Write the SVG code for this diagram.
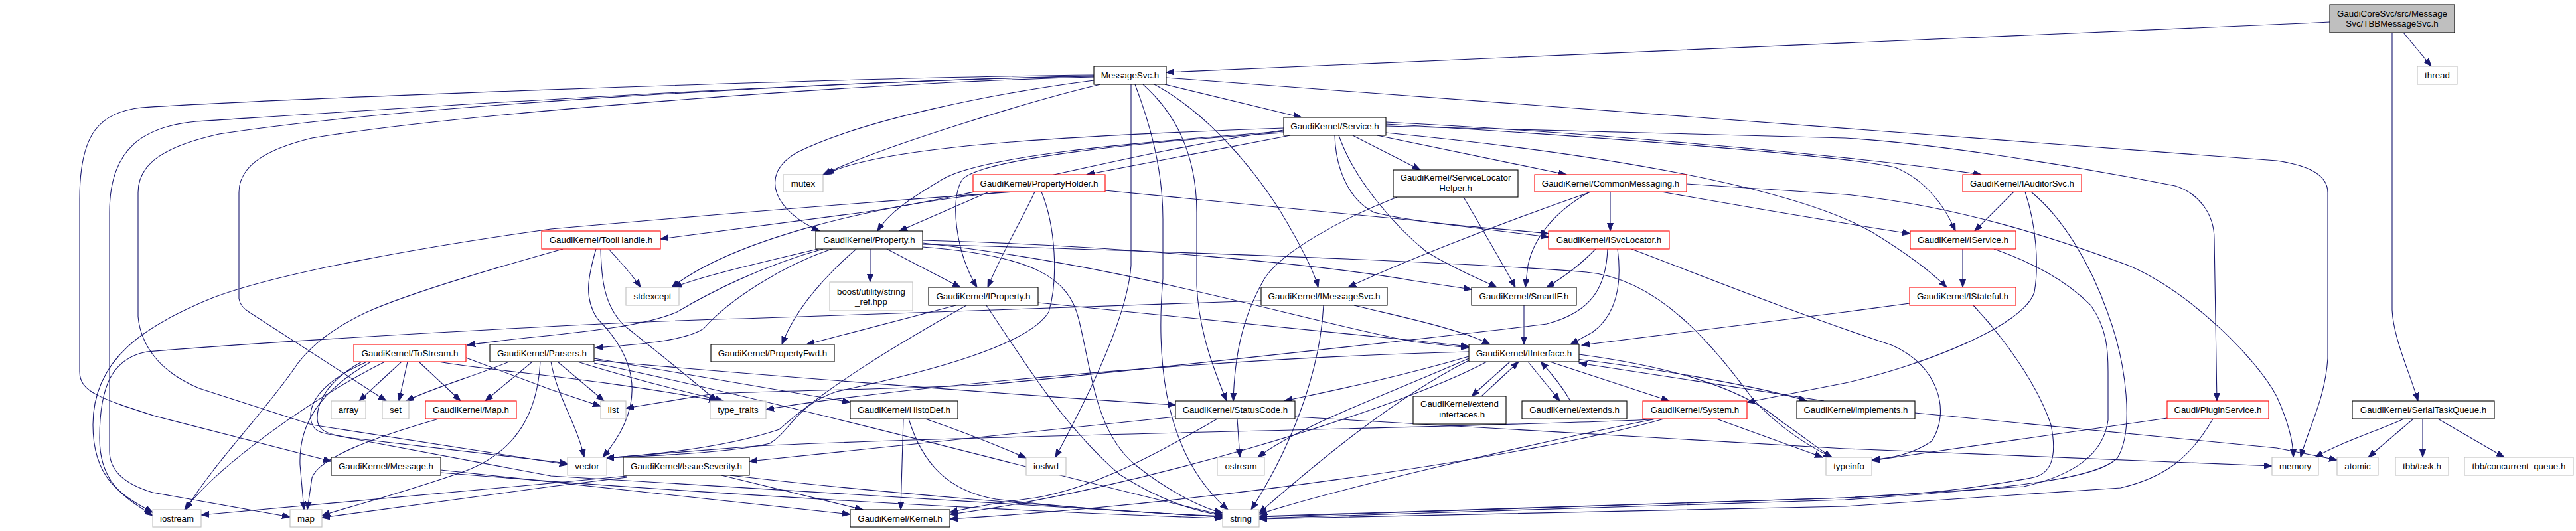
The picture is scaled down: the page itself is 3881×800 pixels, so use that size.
<svg xmlns="http://www.w3.org/2000/svg" width="3881" height="800" viewBox="0 0 3881 800">
<defs>
<marker id="a" markerUnits="userSpaceOnUse" markerWidth="13" markerHeight="10" refX="12" refY="5" orient="auto"><path d="M0,0.5 L12,5 L0,9.5 Z" fill="#191970" stroke="#191970"/></marker>
<style>
.e{fill:none;stroke:#191970;stroke-width:1.1;marker-end:url(#a)}
.b{fill:#fff;stroke:#000;stroke-width:1.1}
.r{fill:#fff;stroke:#f00;stroke-width:1.1}
.x{fill:#fff;stroke:#bfbfbf;stroke-width:1.1}
.root{fill:#bfbfbf;stroke:#000;stroke-width:1.1}
text{font-family:"Liberation Sans",Arial,Helvetica,sans-serif;font-size:13.33px;text-anchor:middle;fill:#000}
</style>
</defs>
<rect width="3881" height="800" fill="#fff"/>
<g id="edges">
<path class="e" d="M3510,33 L3470,35 L1757,109"/>
<path class="e" d="M3621,49 L3663,100"/>
<path class="e" d="M3604,49 L3604,467 C3606,510 3630,560 3643,604"/>
<path class="e" d="M3622,631 C3580,650 3530,665 3488,689"/>
<path class="e" d="M3636,631 L3568,689"/>
<path class="e" d="M3650,631 L3650,689"/>
<path class="e" d="M3673,631 L3773,689"/>
<path class="e" d="M1755,127 L1961,177"/>
<path class="e" d="M1757,117 L3430,242 C3470,248 3507,260 3507,290 L3507,540 C3503,600 3480,640 3466,689"/>
<path class="e" d="M1658,127 C1560,150 1330,220 1240,263"/>
<path class="e" d="M1648,121 C1500,140 1300,180 1200,230 C1140,265 1170,320 1235,348"/>
<path class="e" d="M1648,116 C1300,125 700,170 470,208 C400,225 360,250 360,290 L360,450 Q362,462 375,470 L582,604"/>
<path class="e" d="M1648,114 C1200,125 600,160 330,202 C250,220 208,245 208,290 L208,477 C212,520 240,560 300,585 L470,640 L855,700"/>
<path class="e" d="M1648,113 C1200,118 400,150 213,162 C150,170 120,200 120,300 L120,560 C120,590 150,600 234,627 L499,695"/>
<path class="e" d="M1648,115 C1200,122 500,170 296,183 C220,190 165,220 165,320 L165,680 C165,710 190,730 230,742 L437,779"/>
<path class="e" d="M1704,127 L1704,400 C1700,460 1660,560 1590,689"/>
<path class="e" d="M1710,127 C1730,180 1752,250 1752,330 L1752,420 C1740,560 1760,690 1850,768"/>
<path class="e" d="M1722,127 C1770,170 1803,230 1803,320 L1803,430 C1806,500 1830,560 1848,604"/>
<path class="e" d="M1739,127 C1810,165 1880,240 1930,320 C1960,370 1980,410 1986,433"/>
<path class="e" d="M1944,204 L1637,263"/>
<path class="e" d="M1934,193 C1600,205 1330,220 1245,262"/>
<path class="e" d="M1934,196 C1700,230 1500,290 1300,320 C1150,340 1050,352 995,360"/>
<path class="e" d="M1934,198 C1700,215 1480,235 1420,270 C1370,300 1340,320 1322,348"/>
<path class="e" d="M1934,200 C1700,215 1480,240 1450,270 C1430,300 1440,380 1472,433"/>
<path class="e" d="M2038,204 L2140,256"/>
<path class="e" d="M2075,204 L2360,263"/>
<path class="e" d="M2088,184 C2400,200 2800,235 2985,263"/>
<path class="e" d="M2088,187 C2400,205 2780,235 2855,252 C2900,270 2930,310 2946,348"/>
<path class="e" d="M2088,200 C2400,230 2700,280 2821,350 C2870,380 2910,410 2933,433"/>
<path class="e" d="M2017,204 C2040,270 2100,340 2150,380 C2200,410 2240,425 2255,433"/>
<path class="e" d="M2088,190 L2780,208 C2900,215 3100,245 3277,280 C3310,290 3336,320 3336,360 L3340,604"/>
<path class="e" d="M2011,204 C2012,250 2030,300 2070,320 C2150,340 2280,345 2333,352"/>
<path class="e" d="M1490,289 L1355,348"/>
<path class="e" d="M1559,289 C1540,330 1510,380 1488,433"/>
<path class="e" d="M1665,287 L2130,332 L2333,357"/>
<path class="e" d="M1515,289 C1300,310 1100,365 1012,433"/>
<path class="e" d="M1569,289 C1590,340 1595,420 1580,470 C1550,520 1400,560 1260,590 C1200,610 1190,650 1160,668 C1100,682 1000,686 913,690"/>
<path class="e" d="M1528,289 C1300,305 1000,330 830,345 C650,370 420,410 317,450 C220,490 140,540 140,640 C140,720 180,745 230,772"/>
<path class="e" d="M2105,297 C2020,330 1930,380 1905,420 C1870,480 1860,540 1858,604"/>
<path class="e" d="M2205,297 C2230,340 2260,390 2283,433"/>
<path class="e" d="M2426,289 L2426,348"/>
<path class="e" d="M2397,289 C2250,340 2100,400 2031,433"/>
<path class="e" d="M2395,289 C2340,320 2310,360 2302,400 L2298,433"/>
<path class="e" d="M2503,289 C2650,315 2800,340 2878,352"/>
<path class="e" d="M2541,277 L2780,293 C2950,310 3100,360 3207,400 C3300,440 3400,540 3430,597 C3445,630 3455,660 3455,689"/>
<path class="e" d="M3034,289 L2975,348"/>
<path class="e" d="M3051,289 C3068,340 3072,400 3065,440 C3050,490 2900,550 2780,577 L2632,606"/>
<path class="e" d="M3060,289 C3110,330 3150,400 3175,470 C3205,550 3215,650 3190,690 C3160,720 3050,735 2780,753 L1897,781"/>
<path class="e" d="M917,375 C930,390 950,410 965,433"/>
<path class="e" d="M898,375 C885,420 880,450 900,480 C960,540 975,610 908,689"/>
<path class="e" d="M905,375 C906,420 910,460 940,490 C990,530 1040,570 1080,604"/>
<path class="e" d="M848,375 C760,400 620,440 553,470 C500,495 470,520 449,547 C400,620 320,700 280,768"/>
<path class="e" d="M1232,375 C1150,395 1060,415 1015,433"/>
<path class="e" d="M1290,375 C1250,410 1200,460 1178,519"/>
<path class="e" d="M1311,375 L1311,425"/>
<path class="e" d="M1336,375 L1447,433"/>
<path class="e" d="M1253,375 C1180,400 1100,450 1060,495 C1030,515 950,520 897,524"/>
<path class="e" d="M1240,375 C1150,400 1070,440 1020,470 C950,500 800,505 704,520"/>
<path class="e" d="M1390,362 C1700,370 2000,400 2130,423 L2217,436"/>
<path class="e" d="M1390,366 C1700,400 1950,480 2130,515 L2213,524"/>
<path class="e" d="M1390,368 C1800,380 2200,395 2390,410 C2500,420 2580,520 2640,600 C2680,645 2730,675 2760,689"/>
<path class="e" d="M1390,372 C1560,385 1610,420 1625,480 C1645,560 1650,650 1710,700 C1760,740 1810,765 1842,773"/>
<path class="e" d="M2404,375 C2385,395 2360,415 2330,433"/>
<path class="e" d="M2437,375 C2443,420 2440,470 2400,500 L2366,519"/>
<path class="e" d="M2422,375 C2420,430 2400,470 2330,488 C2200,505 1600,570 1480,580 C1300,588 1100,590 1070,594 L943,615"/>
<path class="e" d="M2458,375 C2550,410 2700,470 2850,520 C2920,550 2940,620 2910,665 C2880,685 2850,690 2820,693"/>
<path class="e" d="M2957,375 L2957,433"/>
<path class="e" d="M3004,375 C3060,395 3110,420 3150,460 C3175,495 3176,530 3176,560 L3176,633 C3170,680 3130,715 3049,733 L2780,750 L1897,779"/>
<path class="e" d="M1440,460 L1215,519"/>
<path class="e" d="M1564,456 L2130,513 L2213,522"/>
<path class="e" d="M1486,460 C1540,540 1600,640 1687,715 C1750,755 1800,770 1842,777"/>
<path class="e" d="M1456,460 C1350,520 1250,580 1174,647 C1100,672 1000,684 913,690"/>
<path class="e" d="M2040,460 C2100,475 2200,495 2245,519"/>
<path class="e" d="M1994,460 C1990,540 1960,650 1885,768"/>
<path class="e" d="M1900,453 L1120,480 C900,485 400,515 221,530 C170,540 150,580 150,660 C150,730 190,750 230,777"/>
<path class="e" d="M2296,460 L2296,519"/>
<path class="e" d="M2877,457 L2780,470 L2383,520"/>
<path class="e" d="M2973,460 C3020,510 3070,580 3090,640 C3100,690 3090,715 3060,720 C2980,735 2900,745 2780,750 L1897,778"/>
<path class="e" d="M605,545 L541,604"/>
<path class="e" d="M614,545 L601,604"/>
<path class="e" d="M631,545 L694,604"/>
<path class="e" d="M580,545 C470,600 330,700 278,768"/>
<path class="e" d="M559,545 C480,590 450,640 452,700 L458,768"/>
<path class="e" d="M702,539 L830,587 L905,612"/>
<path class="e" d="M660,545 C750,560 900,570 1080,604"/>
<path class="e" d="M545,545 C500,570 478,600 478,630 C478,650 495,655 530,660 L855,698"/>
<path class="e" d="M553,545 C495,570 466,600 468,630 C470,648 480,652 500,655 L830,717 L1842,779"/>
<path class="e" d="M767,545 C720,565 650,585 612,604"/>
<path class="e" d="M802,545 L731,604"/>
<path class="e" d="M814,545 C810,620 780,680 700,710 C600,745 520,765 485,777"/>
<path class="e" d="M840,545 L910,604"/>
<path class="e" d="M830,545 C840,600 870,640 880,689"/>
<path class="e" d="M870,545 C950,570 1030,590 1090,604"/>
<path class="e" d="M895,540 L1281,606"/>
<path class="e" d="M895,543 C1200,570 1600,600 1771,610"/>
<path class="e" d="M895,547 C1200,610 1600,720 1842,776"/>
<path class="e" d="M661,631 C560,660 480,690 470,720 L463,768"/>
<path class="e" d="M1361,631 L1357,768"/>
<path class="e" d="M1394,631 C1450,650 1500,670 1546,690"/>
<path class="e" d="M1369,631 C1390,700 1430,740 1500,752 C1650,770 1780,775 1842,778"/>
<path class="e" d="M1864,631 L1868,689"/>
<path class="e" d="M1771,628 L1129,695"/>
<path class="e" d="M1834,631 C1750,680 1650,735 1560,750 C1500,758 1460,765 1431,772"/>
<path class="e" d="M1951,628 L2780,676 L3423,702"/>
<path class="e" d="M2275,545 L2217,597"/>
<path class="e" d="M2232,597 L2288,545"/>
<path class="e" d="M2302,545 L2350,604"/>
<path class="e" d="M2366,604 C2355,585 2340,565 2321,545"/>
<path class="e" d="M2335,545 L2515,604"/>
<path class="e" d="M2375,541 C2500,556 2650,582 2722,604"/>
<path class="e" d="M2748,604 C2650,588 2480,563 2379,547"/>
<path class="e" d="M2213,540 C2100,590 1960,640 1895,689"/>
<path class="e" d="M2213,537 C2100,570 2000,590 1935,604"/>
<path class="e" d="M2240,545 C2100,620 1700,740 1431,775"/>
<path class="e" d="M2213,543 C2100,600 1980,700 1897,773"/>
<path class="e" d="M2379,534 C2500,550 2620,580 2681,633 C2720,660 2745,680 2760,689"/>
<path class="e" d="M2213,530 C1800,540 1300,590 1154,617"/>
<path class="e" d="M2586,631 L2746,689"/>
<path class="e" d="M2507,631 C2300,690 1800,760 1431,782"/>
<path class="e" d="M2495,631 C2300,670 2000,740 1897,775"/>
<path class="e" d="M2490,632 C2200,645 1500,655 1140,672 L913,690"/>
<path class="e" d="M2885,622 L3430,675 L3521,693"/>
<path class="e" d="M3265,630 L2820,694"/>
<path class="e" d="M3334,631 C3300,690 3260,720 3195,735 L2780,763 L1897,782"/>
<path class="e" d="M664,708 L1281,775"/>
<path class="e" d="M664,712 C1000,740 1500,770 1842,781"/>
<path class="e" d="M1087,716 L1300,768"/>
<path class="e" d="M945,717 L830,728 L303,776"/>
<path class="e" d="M945,719 L830,733 L485,780"/>
<path class="e" d="M1100,716 C1300,740 1600,765 1842,779"/>
</g>
<g id="n_tbb"><rect class="root" x="3510" y="7" width="188" height="42"/><text x="3604" y="24.5">GaudiCoreSvc/src/Message</text><text x="3604" y="39.5">Svc/TBBMessageSvc.h</text></g>
<g id="n_messagesvc"><rect class="b" x="1648" y="100" width="109" height="27"/><text x="1702.5" y="118">MessageSvc.h</text></g>
<g id="n_thread"><rect class="x" x="3642" y="100" width="60" height="27"/><text x="3672" y="118">thread</text></g>
<g id="n_service"><rect class="b" x="1934" y="177" width="154" height="27"/><text x="2011" y="195">GaudiKernel/Service.h</text></g>
<g id="n_mutex"><rect class="x" x="1180" y="263" width="60" height="26"/><text x="1210" y="280.5">mutex</text></g>
<g id="n_propertyholder"><rect class="r" x="1466" y="263" width="199" height="26"/><text x="1565.5" y="280.5">GaudiKernel/PropertyHolder.h</text></g>
<g id="n_slh"><rect class="b" x="2099" y="256" width="188" height="41"/><text x="2193" y="272">GaudiKernel/ServiceLocator</text><text x="2193" y="288">Helper.h</text></g>
<g id="n_commonmessaging"><rect class="r" x="2312" y="263" width="229" height="26"/><text x="2426.5" y="280.5">GaudiKernel/CommonMessaging.h</text></g>
<g id="n_iauditorsvc"><rect class="r" x="2957" y="263" width="179" height="26"/><text x="3046.5" y="280.5">GaudiKernel/IAuditorSvc.h</text></g>
<g id="n_toolhandle"><rect class="r" x="816" y="348" width="179" height="27"/><text x="905.5" y="366">GaudiKernel/ToolHandle.h</text></g>
<g id="n_property"><rect class="b" x="1229" y="348" width="161" height="27"/><text x="1309.5" y="366">GaudiKernel/Property.h</text></g>
<g id="n_isvclocator"><rect class="r" x="2333" y="348" width="182" height="27"/><text x="2424" y="366">GaudiKernel/ISvcLocator.h</text></g>
<g id="n_iservice"><rect class="r" x="2878" y="348" width="159" height="27"/><text x="2957.5" y="366">GaudiKernel/IService.h</text></g>
<g id="n_stdexcept"><rect class="x" x="943" y="433" width="80" height="27"/><text x="983" y="451">stdexcept</text></g>
<g id="n_boost"><rect class="x" x="1250" y="425" width="125" height="43"/><text x="1312.5" y="443.5">boost/utility/string</text><text x="1312.5" y="458.5">_ref.hpp</text></g>
<g id="n_iproperty"><rect class="b" x="1399" y="433" width="165" height="27"/><text x="1481.5" y="451">GaudiKernel/IProperty.h</text></g>
<g id="n_imessagesvc"><rect class="b" x="1900" y="433" width="190" height="27"/><text x="1995" y="451">GaudiKernel/IMessageSvc.h</text></g>
<g id="n_smartif"><rect class="b" x="2217" y="433" width="158" height="27"/><text x="2296" y="451">GaudiKernel/SmartIF.h</text></g>
<g id="n_istateful"><rect class="r" x="2877" y="433" width="160" height="27"/><text x="2957" y="451">GaudiKernel/IStateful.h</text></g>
<g id="n_tostream"><rect class="r" x="533" y="519" width="169" height="26"/><text x="617.5" y="536.5">GaudiKernel/ToStream.h</text></g>
<g id="n_parsers"><rect class="b" x="738" y="519" width="157" height="26"/><text x="816.5" y="536.5">GaudiKernel/Parsers.h</text></g>
<g id="n_propertyfwd"><rect class="b" x="1071" y="519" width="186" height="26"/><text x="1164" y="536.5">GaudiKernel/PropertyFwd.h</text></g>
<g id="n_iinterface"><rect class="b" x="2213" y="519" width="166" height="26"/><text x="2296" y="536.5">GaudiKernel/IInterface.h</text></g>
<g id="n_array"><rect class="x" x="499" y="604" width="52" height="27"/><text x="525" y="622">array</text></g>
<g id="n_set"><rect class="x" x="576" y="604" width="40" height="27"/><text x="596" y="622">set</text></g>
<g id="n_map_h"><rect class="r" x="641" y="604" width="137" height="27"/><text x="709.5" y="622">GaudiKernel/Map.h</text></g>
<g id="n_list"><rect class="x" x="905" y="604" width="38" height="27"/><text x="924" y="622">list</text></g>
<g id="n_type_traits"><rect class="x" x="1070" y="604" width="84" height="27"/><text x="1112" y="622">type_traits</text></g>
<g id="n_histodef"><rect class="b" x="1281" y="604" width="162" height="27"/><text x="1362" y="622">GaudiKernel/HistoDef.h</text></g>
<g id="n_statuscode"><rect class="b" x="1771" y="604" width="180" height="27"/><text x="1861" y="622">GaudiKernel/StatusCode.h</text></g>
<g id="n_extend_interfaces"><rect class="b" x="2129" y="597" width="140" height="42"/><text x="2199" y="613">GaudiKernel/extend</text><text x="2199" y="629">_interfaces.h</text></g>
<g id="n_extends"><rect class="b" x="2293" y="604" width="158" height="27"/><text x="2372" y="622">GaudiKernel/extends.h</text></g>
<g id="n_system"><rect class="r" x="2475" y="604" width="157" height="27"/><text x="2553.5" y="622">GaudiKernel/System.h</text></g>
<g id="n_implements"><rect class="b" x="2707" y="604" width="178" height="27"/><text x="2796" y="622">GaudiKernel/implements.h</text></g>
<g id="n_pluginservice"><rect class="r" x="3265" y="604" width="153" height="27"/><text x="3341.5" y="622">Gaudi/PluginService.h</text></g>
<g id="n_serialtaskqueue"><rect class="b" x="3544" y="604" width="214" height="27"/><text x="3651" y="622">GaudiKernel/SerialTaskQueue.h</text></g>
<g id="n_message"><rect class="b" x="499" y="689" width="165" height="27"/><text x="581.5" y="707">GaudiKernel/Message.h</text></g>
<g id="n_vector"><rect class="x" x="855" y="689" width="59" height="27"/><text x="884.5" y="707">vector</text></g>
<g id="n_issueseverity"><rect class="b" x="939" y="689" width="190" height="27"/><text x="1034" y="707">GaudiKernel/IssueSeverity.h</text></g>
<g id="n_iosfwd"><rect class="x" x="1546" y="689" width="60" height="27"/><text x="1576" y="707">iosfwd</text></g>
<g id="n_ostream"><rect class="x" x="1834" y="689" width="71" height="27"/><text x="1869.5" y="707">ostream</text></g>
<g id="n_typeinfo"><rect class="x" x="2751" y="689" width="69" height="27"/><text x="2785.5" y="707">typeinfo</text></g>
<g id="n_memory"><rect class="x" x="3423" y="689" width="70" height="27"/><text x="3458" y="707">memory</text></g>
<g id="n_atomic"><rect class="x" x="3521" y="689" width="62" height="27"/><text x="3552" y="707">atomic</text></g>
<g id="n_tbb_task"><rect class="x" x="3609" y="689" width="80" height="27"/><text x="3649" y="707">tbb/task.h</text></g>
<g id="n_tbb_cq"><rect class="x" x="3713" y="689" width="164" height="27"/><text x="3795" y="707">tbb/concurrent_queue.h</text></g>
<g id="n_iostream"><rect class="x" x="230" y="768" width="73" height="26"/><text x="266.5" y="785.5">iostream</text></g>
<g id="n_map"><rect class="x" x="437" y="768" width="48" height="26"/><text x="461" y="785.5">map</text></g>
<g id="n_kernel"><rect class="b" x="1281" y="768" width="150" height="26"/><text x="1356" y="785.5">GaudiKernel/Kernel.h</text></g>
<g id="n_string"><rect class="x" x="1842" y="768" width="55" height="26"/><text x="1869.5" y="785.5">string</text></g>
</svg>
